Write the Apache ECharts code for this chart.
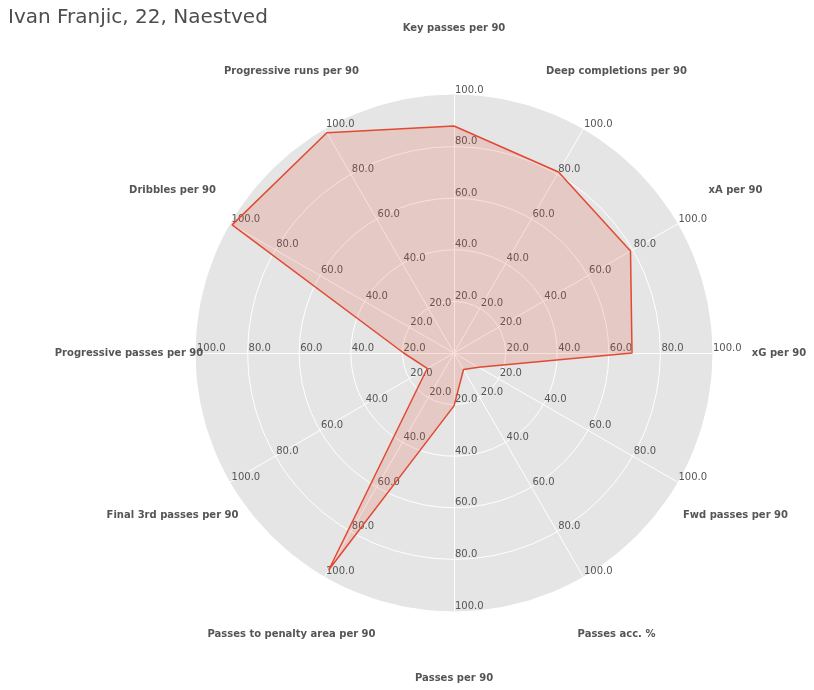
<!DOCTYPE html>
<html>
<head>
<meta charset="utf-8">
<script src="https://cdn.jsdelivr.net/npm/echarts@6/dist/echarts.min.js"></script>
<style>
  html, body { margin: 0; padding: 0; background: #fff; }
  #main { width: 814px; height: 690px; }
</style>
</head>
<body>
<div id="main"></div>
<script>
// metrics listed clockwise from the top, as in the picture
const metrics = [
    'Key passes per 90',
    'Deep completions per 90',
    'xA per 90',
    'xG per 90',
    'Fwd passes per 90',
    'Passes acc. %',
    'Passes per 90',
    'Passes to penalty area per 90',
    'Final 3rd passes per 90',
    'Progressive passes per 90',
    'Dribbles per 90',
    'Progressive runs per 90'
];
const percentiles = [88, 81, 79, 69, 11, 7.4, 20.5, 97, 12, 19.5, 99.3, 98.6];
const tickValues = [20, 40, 60, 80, 100];

// echarts lays indicators out counter-clockwise, so flip the order after the first one
const order = [0].concat(metrics.map((m, i) => i).slice(1).reverse());
// names may overlap the outer tick labels, as in the original
const indicators = order.map(i => ({ name: metrics[i], min: 0, max: 100, nameMoveOverlap: false }));
const values = order.map(i => percentiles[i]);

const chart = echarts.init(document.getElementById('main'));
chart.setOption({
    animation: false,
    backgroundColor: '#fff',
    textStyle: { fontFamily: 'DejaVu Sans' },
    title: {
        text: 'Ivan Franjic, 22, Naestved',
        left: 3,
        top: 3,
        textStyle: { fontSize: 20, fontWeight: 'normal', color: '#4d4d4d', fontFamily: 'DejaVu Sans' }
    },
    radar: {
        center: [454, 353],
        radius: 258,
        startAngle: 90,
        shape: 'circle',
        splitNumber: tickValues.length,
        indicator: indicators,
        nameGap: 67,
        axisName: {
            color: '#555',
            fontWeight: 'bold',
            fontSize: 10,
            fontFamily: 'DejaVu Sans',
            align: 'center',
            verticalAlign: 'middle'
        },
        axisLine: { lineStyle: { color: '#fff', width: 1 } },
        axisTick: { show: false },
        axisLabel: {
            show: true,
            color: '#555',
            fontSize: 10,
            fontFamily: 'DejaVu Sans',
            margin: 0,
            align: 'left',
            verticalAlign: 'bottom',
            padding: [0, 0, 0, 1],
            formatter: v => (tickValues.indexOf(v) >= 0 ? v.toFixed(1) : '')
        },
        splitLine: { lineStyle: { color: ['#fff', '#fff', '#fff', '#fff', '#fff', '#e5e5e5'], width: 1 } },
        splitArea: { areaStyle: { color: ['#e5e5e5'] } }
    },
    series: [{
        type: 'radar',
        symbol: 'none',
        lineStyle: { color: '#E24A33', width: 1.5 },
        areaStyle: { color: 'rgba(226,74,51,0.25)' },
        data: [{ value: values, name: 'Ivan Franjic' }]
    }]
});
</script>
</body>
</html>
